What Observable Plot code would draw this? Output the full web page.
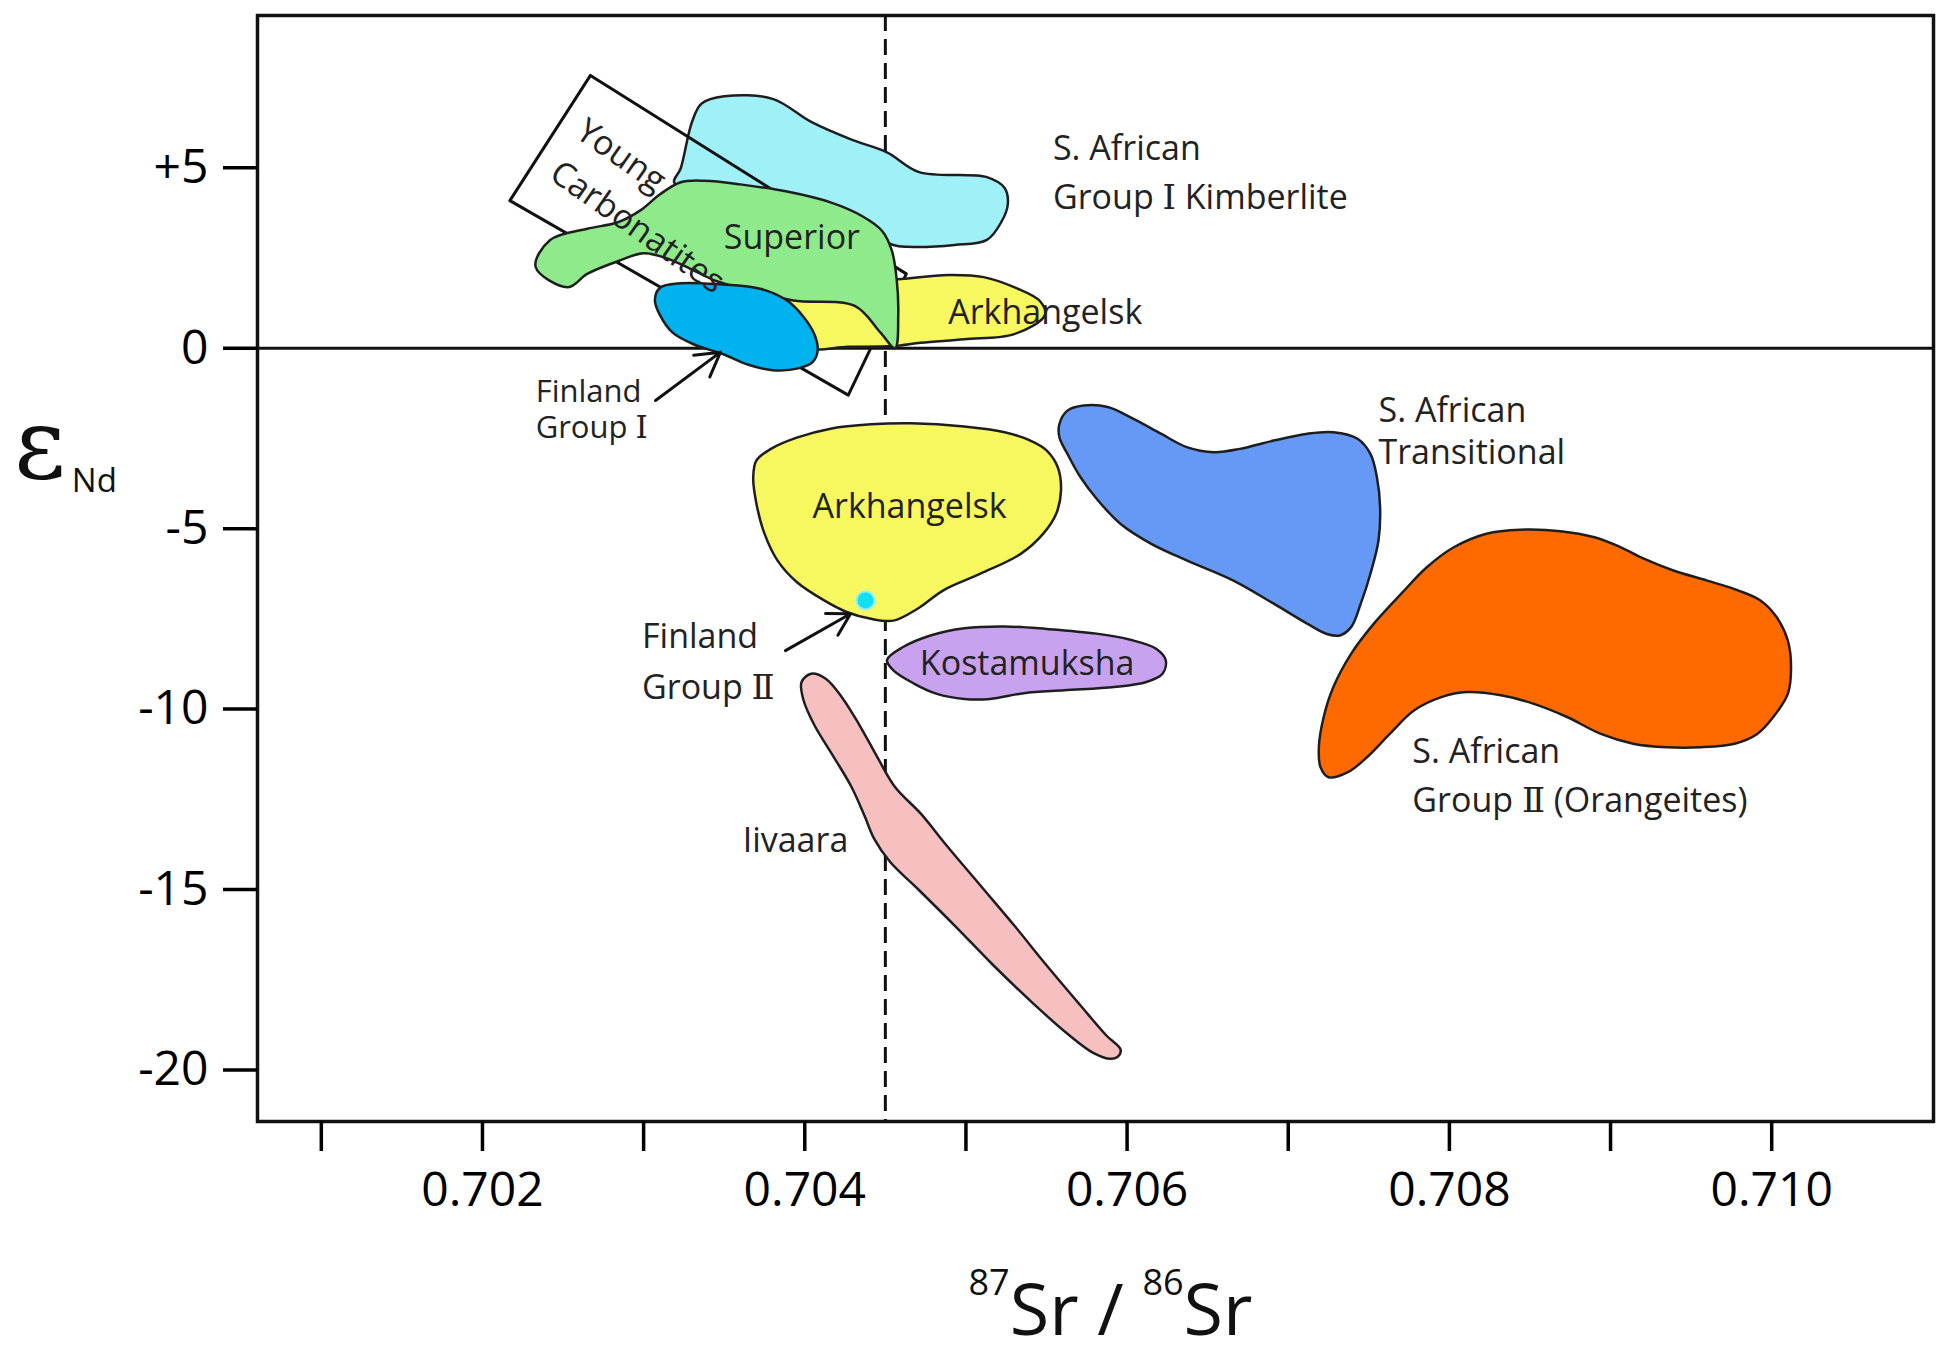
<!DOCTYPE html>
<html>
<head>
<meta charset="utf-8">
<script src="https://cdn.jsdelivr.net/npm/d3@7"></script>
<script src="https://cdn.jsdelivr.net/npm/@observablehq/plot@0.6"></script>
<style>
  html, body { margin: 0; padding: 0; background: white; }
  #chart { width: 1938px; height: 1347px; }
</style>
</head>
<body>
<div id="chart"></div>
<script>
// ---- axis ticks ----
const xTicks = [0.701, 0.702, 0.703, 0.704, 0.705, 0.706, 0.707, 0.708, 0.709, 0.710];
const yTicks = [5, 0, -5, -10, -15, -20];
const bulkEarthSr = 0.7045;
const bulkEarthNd = 0;

// ---- field outlines [87Sr/86Sr, eNd] ----
const kimberliteGroupI = [[0.70336, 6.78], [0.70350, 6.98], [0.70380, 6.91], [0.70404, 6.27], [0.70429, 5.78], [0.70451, 5.43], [0.70471, 4.88], [0.70513, 4.74], [0.70524, 4.44], [0.70526, 3.99], [0.70522, 3.50], [0.70513, 3.00], [0.70493, 2.86], [0.70464, 2.81], [0.70455, 2.86], [0.70427, 3.50], [0.70360, 4.29], [0.70319, 4.59], [0.70323, 4.98], [0.70330, 6.27]];
const youngCarbonatites = [[0.70267, 7.56], [0.70463, 2.06], [0.70427, -1.30], [0.70217, 4.09]];
const arkhangelskUpper = [[0.70380, 1.10], [0.70400, 1.70], [0.70440, 1.85], [0.70460, 1.92], [0.70489, 2.03], [0.70511, 1.97], [0.70531, 1.67], [0.70546, 1.30], [0.70549, 0.92], [0.70530, 0.39], [0.70499, 0.25], [0.70472, 0.15], [0.70455, 0.06], [0.70427, 0.04], [0.70400, 0.03]];
const superior = [[0.70242, 3.00], [0.70265, 3.31], [0.70284, 3.49], [0.70298, 3.82], [0.70310, 4.26], [0.70323, 4.60], [0.70338, 4.64], [0.70360, 4.54], [0.70389, 4.34], [0.70416, 4.04], [0.70436, 3.65], [0.70448, 3.25], [0.70454, 2.71], [0.70457, 1.92], [0.70458, 0.93], [0.70456, 0.00], [0.70447, 0.43], [0.70431, 1.17], [0.70393, 1.32], [0.70360, 1.67], [0.70344, 1.88], [0.70329, 2.20], [0.70315, 2.48], [0.70300, 2.63], [0.70284, 2.41], [0.70265, 2.06], [0.70253, 1.69], [0.70233, 2.25]];
const finlandGroupI = [[0.70310, 1.67], [0.70323, 1.80], [0.70347, 1.77], [0.70373, 1.64], [0.70389, 1.32], [0.70399, 0.88], [0.70406, 0.38], [0.70408, -0.06], [0.70405, -0.38], [0.70396, -0.56], [0.70380, -0.61], [0.70365, -0.46], [0.70349, -0.16], [0.70331, 0.11], [0.70318, 0.43], [0.70310, 0.93], [0.70307, 1.32]];
const arkhangelskLower = [[0.70368, -3.57], [0.70370, -3.11], [0.70379, -2.79], [0.70395, -2.48], [0.70416, -2.23], [0.70441, -2.11], [0.70466, -2.08], [0.70499, -2.17], [0.70524, -2.33], [0.70540, -2.56], [0.70550, -2.83], [0.70557, -3.30], [0.70559, -3.94], [0.70556, -4.59], [0.70548, -5.14], [0.70534, -5.70], [0.70509, -6.25], [0.70486, -6.71], [0.70470, -7.22], [0.70455, -7.55], [0.70441, -7.50], [0.70426, -7.31], [0.70412, -6.99], [0.70395, -6.48], [0.70383, -5.88], [0.70375, -5.14], [0.70370, -4.31]];
const kostamuksha = [[0.70451, -8.64], [0.70461, -8.28], [0.70478, -7.96], [0.70499, -7.76], [0.70524, -7.71], [0.70550, -7.78], [0.70581, -7.91], [0.70602, -8.08], [0.70618, -8.33], [0.70624, -8.65], [0.70622, -9.02], [0.70612, -9.25], [0.70592, -9.39], [0.70561, -9.48], [0.70536, -9.56], [0.70515, -9.72], [0.70499, -9.72], [0.70482, -9.58], [0.70468, -9.30], [0.70455, -8.93]];
const iivaara = [[0.70404, -9.02], [0.70413, -9.16], [0.70423, -9.67], [0.70434, -10.45], [0.70445, -11.33], [0.70456, -12.16], [0.70472, -12.90], [0.70488, -13.78], [0.70509, -14.89], [0.70530, -16.00], [0.70550, -17.10], [0.70571, -18.21], [0.70587, -19.04], [0.70596, -19.44], [0.70594, -19.64], [0.70589, -19.69], [0.70579, -19.53], [0.70563, -19.00], [0.70542, -18.17], [0.70517, -17.10], [0.70493, -16.00], [0.70470, -14.98], [0.70453, -14.24], [0.70443, -13.59], [0.70437, -12.95], [0.70429, -12.16], [0.70418, -11.33], [0.70406, -10.45], [0.70399, -9.72], [0.70398, -9.25]];
const transitional = [[0.70558, -2.10], [0.70563, -1.73], [0.70573, -1.59], [0.70588, -1.63], [0.70604, -1.96], [0.70621, -2.37], [0.70637, -2.74], [0.70654, -2.88], [0.70670, -2.79], [0.70691, -2.56], [0.70712, -2.37], [0.70728, -2.33], [0.70743, -2.51], [0.70751, -2.93], [0.70755, -3.57], [0.70757, -4.41], [0.70756, -5.33], [0.70751, -6.25], [0.70745, -7.08], [0.70739, -7.73], [0.70732, -7.96], [0.70724, -7.92], [0.70712, -7.64], [0.70691, -7.08], [0.70666, -6.44], [0.70637, -5.88], [0.70615, -5.42], [0.70596, -4.87], [0.70582, -4.22], [0.70571, -3.57], [0.70563, -2.93], [0.70558, -2.47]];
const orangeites = [[0.70720, -11.61], [0.70719, -11.06], [0.70722, -10.22], [0.70728, -9.39], [0.70739, -8.47], [0.70753, -7.64], [0.70770, -6.81], [0.70786, -6.07], [0.70803, -5.51], [0.70823, -5.14], [0.70844, -5.03], [0.70869, -5.07], [0.70890, -5.24], [0.70906, -5.51], [0.70921, -5.84], [0.70939, -6.16], [0.70960, -6.44], [0.70979, -6.71], [0.70993, -6.99], [0.71003, -7.45], [0.71010, -8.10], [0.71012, -8.84], [0.71010, -9.58], [0.71001, -10.22], [0.70991, -10.69], [0.70977, -10.96], [0.70956, -11.06], [0.70935, -11.06], [0.70914, -10.96], [0.70894, -10.69], [0.70873, -10.22], [0.70852, -9.85], [0.70832, -9.62], [0.70811, -9.53], [0.70795, -9.67], [0.70778, -10.04], [0.70763, -10.69], [0.70749, -11.33], [0.70737, -11.75], [0.70725, -11.89]];
const finlandGroupIIPoint = [[0.704377, -6.99]];

// ---- arrows [x1, y1, x2, y2] ----
const arrows = [[0.703074, -1.45, 0.703477, -0.11], [0.703880, -8.38, 0.704284, -7.36]];

// ---- labels [text, x, y] ----
const labelsStart = [
  ["S. African", 0.70554, 5.53], ["Group Ⅰ Kimberlite", 0.70554, 4.15],
  ["Arkhangelsk", 0.70489, 0.98],
  ["Finland", 0.70299, -8.00], ["Group Ⅱ", 0.70299, -9.41],
  ["S. African", 0.70756, -1.74], ["Transitional", 0.70756, -2.90],
  ["S. African", 0.70777, -11.19], ["Group Ⅱ (Orangeites)", 0.70777, -12.55]
];
const labelsSmall = [["Finland", 0.70233, -1.21], ["Group Ⅰ", 0.70233, -2.21]];
const labelsMiddle = [
  ["Superior", 0.70392, 3.05], ["Arkhangelsk", 0.70465, -4.40], ["Kostamuksha", 0.70538, -8.76]
];
const labelsEnd = [["Iivaara", 0.70427, -13.65]];
const labelsRotated = [["Young", 0.70286, 5.33], ["Carbonatites", 0.70296, 3.35]];

const font = "'Open Sans', 'DejaVu Serif', 'Noto Sans CJK SC', sans-serif";
const outline = "#1e1e1e";
const field = (pts, fill, curve = "catmull-rom-closed") =>
  Plot.line(pts, {x: d => d[0], y: d => d[1], curve, fill, stroke: outline, strokeWidth: 2.5});
const labelOpts = {x: d => d[1], y: d => d[2], text: d => d[0], fontSize: 34, fill: "#222"};

const plot = Plot.plot({
  width: 1938,
  height: 1347,
  marginLeft: 257,
  marginRight: 5,
  marginTop: 15,
  marginBottom: 226,
  style: {fontFamily: font, background: "white", color: "black"},
  x: {domain: [0.700604, 0.711004]},
  y: {domain: [-21.43, 9.22]},
  marks: [
    Plot.ruleX([bulkEarthSr], {stroke: "#111", strokeWidth: 3, strokeDasharray: "16,8"}),
    Plot.ruleY([bulkEarthNd], {stroke: "#111", strokeWidth: 3}),
    field(kimberliteGroupI, "#a0f0f8"),
    Plot.line(youngCarbonatites, {x: d => d[0], y: d => d[1], curve: "linear-closed", fill: "none", stroke: "#111", strokeWidth: 3}),
    field(arkhangelskUpper, "#f7f760"),
    field(superior, "#8eea8a"),
    field(finlandGroupI, "#00b2ee"),
    field(arkhangelskLower, "#f7f760"),
    field(kostamuksha, "#c9a2ef"),
    field(iivaara, "#f6c0c0"),
    field(transitional, "#6699f5"),
    field(orangeites, "#ff6a00"),
    Plot.dot(finlandGroupIIPoint, {x: d => d[0], y: d => d[1], r: 9, fill: "#12e0f0", stroke: "#8ff2f8", strokeWidth: 2}),
    Plot.arrow(arrows, {x1: d => d[0], y1: d => d[1], x2: d => d[2], y2: d => d[3], stroke: "#111", strokeWidth: 3, headLength: 16}),
    Plot.text(labelsStart, {...labelOpts, textAnchor: "start"}),
    Plot.text(labelsSmall, {...labelOpts, textAnchor: "start", fontSize: 31}),
    Plot.text(labelsMiddle, {...labelOpts, textAnchor: "middle"}),
    Plot.text(labelsEnd, {...labelOpts, textAnchor: "end"}),
    Plot.text(labelsRotated, {...labelOpts, textAnchor: "middle", rotate: 35}),
    Plot.frame({stroke: "#111", strokeWidth: 3.5}),
    Plot.axisX({ticks: xTicks, tickSize: 30, tickPadding: 20, fontSize: 48, strokeWidth: 3.5, label: null,
      tickFormat: d => Math.round(d * 1000) % 2 === 0 ? d.toFixed(3) : ""}),
    Plot.axisY({ticks: yTicks, tickSize: 34, tickPadding: 15, fontSize: 48, strokeWidth: 3.5, label: null,
      tickFormat: d => d > 0 ? "+" + d : String(d)})
  ]
});

// axis titles with super/subscripts
const sx = plot.scale("x"), sy = plot.scale("y");
const svg = d3.select(plot);
const xt = svg.append("text")
  .attr("x", sx.apply(0.7059)).attr("y", 1335)
  .attr("text-anchor", "middle").attr("font-family", font).attr("font-size", 72).attr("fill", "#111");
xt.append("tspan").attr("font-size", 36).attr("dy", -40).text("87");
xt.append("tspan").attr("dy", 40).text("Sr / ");
xt.append("tspan").attr("font-size", 36).attr("dy", -40).text("86");
xt.append("tspan").attr("dy", 40).text("Sr");

const yt = svg.append("text")
  .attr("x", 14).attr("y", sy.apply(-3.60))
  .attr("text-anchor", "start").attr("font-family", font).attr("fill", "#111");
yt.append("tspan").attr("font-family", "'DejaVu Serif', serif").attr("font-size", 100).text("ε");
yt.append("tspan").attr("font-size", 33).attr("dx", 6).attr("dy", 14).text("Nd");

document.getElementById("chart").appendChild(plot);
</script>
</body>
</html>
